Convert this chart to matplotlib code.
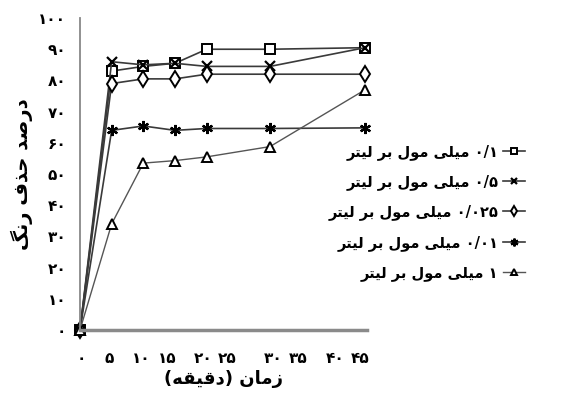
import re
import matplotlib
matplotlib.use('Agg')
import matplotlib.pyplot as plt

plt.rcParams['font.family'] = ['DejaVu Sans']

# data
minutes = [0, 5, 10, 15, 20, 30, 45]
c_01 = [0, 83, 84.5, 85.5, 90, 90, 90.5]
c_05 = [0, 86, 85, 85.5, 84.5, 84.5, 90.5]
c_0025 = [0, 79, 80.5, 80.5, 82, 82, 82]
c_001 = [0, 64, 65.4, 64, 64.6, 64.6, 64.8]
c_1 = [0, 34, 53.5, 54.3, 55.5, 58.8, 77]

labels = ['۰/۱ میلی مول بر لیتر', '۰/۵ میلی مول بر لیتر', '۰/۰۲۵ میلی مول بر لیتر',
          '۰/۰۱ میلی مول بر لیتر', '۱ میلی مول بر لیتر']
xtick_labels = ['۰', '۵', '۱۰', '۱۵', '۲۰', '۲۵', '۳۰', '۳۵', '۴۰', '۴۵']
xtick_pos = [0.2, 4.6, 9.6, 13.7, 19.5, 23.2, 30.5, 34.5, 40.3, 44.2]
ytick_labels = ['۰', '۱۰', '۲۰', '۳۰', '۴۰', '۵۰', '۶۰', '۷۰', '۸۰', '۹۰', '۱۰۰']
xlabel = 'زمان (دقیقه)'
ylabel = 'درصد حذف رنگ'

# simple persian shaping: isolated, final, initial, medial
FORMS = {
    'ا': ('\uFE8D', '\uFE8E', None, None),
    'ب': ('\uFE8F', '\uFE90', '\uFE91', '\uFE92'),
    'ت': ('\uFE95', '\uFE96', '\uFE97', '\uFE98'),
    'ح': ('\uFEA1', '\uFEA2', '\uFEA3', '\uFEA4'),
    'د': ('\uFEA9', '\uFEAA', None, None),
    'ذ': ('\uFEAB', '\uFEAC', None, None),
    'ر': ('\uFEAD', '\uFEAE', None, None),
    'ز': ('\uFEAF', '\uFEB0', None, None),
    'ص': ('\uFEB9', '\uFEBA', '\uFEBB', '\uFEBC'),
    'ف': ('\uFED1', '\uFED2', '\uFED3', '\uFED4'),
    'ق': ('\uFED5', '\uFED6', '\uFED7', '\uFED8'),
    'ل': ('\uFEDD', '\uFEDE', '\uFEDF', '\uFEE0'),
    'م': ('\uFEE1', '\uFEE2', '\uFEE3', '\uFEE4'),
    'ن': ('\uFEE5', '\uFEE6', '\uFEE7', '\uFEE8'),
    'ه': ('\uFEE9', '\uFEEA', '\uFEEB', '\uFEEC'),
    'و': ('\uFEED', '\uFEEE', None, None),
    'ی': ('\uFBFC', '\uFBFD', '\uFBFE', '\uFBFF'),
    'گ': ('\uFB92', '\uFB93', '\uFB94', '\uFB95'),
}


def fa(text):
    out = []
    for i, ch in enumerate(text):
        if ch not in FORMS:
            out.append(ch)
            continue
        prev = text[i - 1] if i > 0 else ''
        nxt = text[i + 1] if i + 1 < len(text) else ''
        jp = prev in FORMS and FORMS[prev][2] is not None
        jn = FORMS[ch][2] is not None and nxt in FORMS
        f = FORMS[ch]
        if jp and jn:
            out.append(f[3])
        elif jp:
            out.append(f[1])
        elif jn:
            out.append(f[2])
        else:
            out.append(f[0])
    s = ''.join(out)[::-1]
    s = re.sub(r'[۰-۹/]+', lambda m: m.group(0)[::-1], s)
    return s.replace('(', '\0').replace(')', '(').replace('\0', ')')


fig = plt.figure(figsize=(5.66, 4.01), dpi=100)
ax = fig.add_axes([0.1413, 0.177, 0.507, 0.778])

lc = '#3a3a3a'
kw = dict(clip_on=False, mec='black')
ax.plot(minutes, c_01, color=lc, lw=1.2, marker='s', ms=7, mfc='white', mew=1.4, label=fa(labels[0]), **kw)
ax.plot(minutes, c_05, color=lc, lw=1.2, marker='x', ms=7, mew=1.6, label=fa(labels[1]), **kw)
ax.plot(minutes, c_0025, color=lc, lw=1.2, marker='d', ms=8, mfc='white', mew=1.4, label=fa(labels[2]), **kw)
ax.plot(minutes, c_001, color=lc, lw=1.2, marker=(6, 2, 0), ms=8, mew=1.6, label=fa(labels[3]), **kw)
ax.plot(minutes, c_1, color='#555555', lw=1.0, marker='^', ms=7, mfc='white', mew=1.4, label=fa(labels[4]), **kw)

ax.set_xlim(0, 45.3)
ax.set_ylim(0, 100)
ax.set_xticks(xtick_pos)
ax.set_xticklabels(xtick_labels, fontsize=11, fontweight='bold')
ax.set_yticks(range(0, 101, 10))
ax.set_yticklabels(ytick_labels, fontsize=11, fontweight='bold')
ax.tick_params(axis='both', length=0)
ax.tick_params(axis='x', pad=15)
ax.tick_params(axis='y', pad=10)

for s in ['top', 'right']:
    ax.spines[s].set_visible(False)
ax.spines['left'].set_color('#888888')
ax.spines['left'].set_linewidth(1.3)
ax.spines['bottom'].set_color('#8a8a8a')
ax.spines['bottom'].set_linewidth(2.5)

ax.set_xlabel(fa(xlabel), fontsize=13, fontweight='bold', labelpad=3)
ax.set_ylabel(fa(ylabel), fontsize=14, fontweight='bold', labelpad=4)

fig.legend(loc='center right', bbox_to_anchor=(0.95, 0.47), frameon=False, markerfirst=False,
           handlelength=1.5, markerscale=0.7, labelspacing=1.0, handletextpad=0.3,
           prop={'size': 10.5, 'weight': 'bold'})

fig.savefig('out.png', dpi=100)
